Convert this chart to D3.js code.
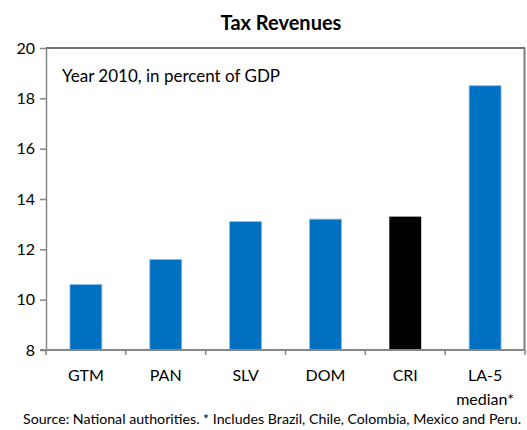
<!DOCTYPE html>
<html>
<head>
<meta charset="utf-8">
<script src="https://cdn.jsdelivr.net/npm/d3@7/dist/d3.min.js"></script>
<style>
  html, body { margin: 0; padding: 0; background: #fff; }
  svg { display: block; font-family: Lato, "Open Sans", sans-serif; }
</style>
</head>
<body>
<svg id="chart" width="527" height="430"></svg>
<script>
// Tax revenues, 2010, percent of GDP
const categories = ["GTM", "PAN", "SLV", "DOM", "CRI", "LA-5\nmedian*"];
const values = [10.6, 11.6, 13.1, 13.2, 13.3, 18.5];
const highlight = ["CRI"];
const yTicks = [8, 10, 12, 14, 16, 18, 20];

const title = "Tax Revenues";
const subtitle = "Year 2010, in percent of GDP";
const source = "Source: National authorities. * Includes Brazil, Chile, Colombia,  Mexico and Peru.";

const svg = d3.select("#chart");
const plotLeft = 46, plotRight = 525, plotTop = 48, plotBottom = 350;

const x = d3.scaleBand()
  .domain(categories)
  .range([plotLeft, plotRight])
  .paddingInner(0.6)
  .paddingOuter(0.3);

const y = d3.scaleLinear()
  .domain([8, 20])
  .range([plotBottom, plotTop]);

// frame: top and right edges
svg.append("line")
  .attr("x1", plotLeft).attr("x2", plotRight)
  .attr("y1", plotTop).attr("y2", plotTop)
  .attr("stroke", "#404040").attr("stroke-width", 1.5);
svg.append("line")
  .attr("x1", plotRight - 0.5).attr("x2", plotRight - 0.5)
  .attr("y1", plotTop).attr("y2", plotBottom)
  .attr("stroke", "#7f7f7f").attr("stroke-width", 2);

// bars
svg.append("g").selectAll("rect")
  .data(categories.map((c, i) => ({ c, v: values[i] })))
  .join("rect")
  .attr("x", d => x(d.c))
  .attr("y", d => y(d.v))
  .attr("width", x.bandwidth())
  .attr("height", d => y(8) - y(d.v))
  .attr("fill", d => highlight.includes(d.c) ? "#000000" : "#0070c0")
  .attr("stroke", d => highlight.includes(d.c) ? "none" : "#8cbbe6")
  .attr("stroke-width", 0.8);

// y axis
const yAxis = svg.append("g")
  .attr("transform", `translate(${plotLeft},0)`)
  .call(d3.axisLeft(y).tickValues(yTicks).tickSize(6).tickSizeOuter(0).tickPadding(5));
yAxis.select(".domain").attr("stroke", "#868686").attr("stroke-width", 1.5);
yAxis.selectAll(".tick line").attr("stroke", "#868686").attr("stroke-width", 1.5);
yAxis.selectAll(".tick text")
  .attr("font-family", "Lato, 'Open Sans', sans-serif")
  .attr("font-size", 16).attr("fill", "#000");

// x axis line and boundary ticks
svg.append("line")
  .attr("x1", plotLeft - 6).attr("x2", plotRight)
  .attr("y1", plotBottom).attr("y2", plotBottom)
  .attr("stroke", "#868686").attr("stroke-width", 2);
const bounds = d3.range(categories.length + 1).map(i => plotLeft + i * x.step());
svg.append("g").selectAll("line")
  .data(bounds)
  .join("line")
  .attr("x1", d => d).attr("x2", d => d)
  .attr("y1", plotBottom).attr("y2", plotBottom + 5)
  .attr("stroke", "#868686").attr("stroke-width", 1.5);

// category labels
const labels = svg.append("g")
  .attr("font-size", 16).attr("text-anchor", "middle").attr("fill", "#000");
categories.forEach(c => {
  const t = labels.append("text")
    .attr("x", x(c) + x.bandwidth() / 2)
    .attr("y", 381);
  c.split("\n").forEach((line, i) => {
    t.append("tspan")
      .attr("x", x(c) + x.bandwidth() / 2)
      .attr("dy", i === 0 ? 0 : 24)
      .text(line);
  });
});

// titles and notes
svg.append("text")
  .attr("x", 281).attr("y", 30)
  .attr("text-anchor", "middle")
  .attr("font-size", 20).attr("font-weight", "bold")
  .attr("fill", "#000")
  .text(title);

svg.append("text")
  .attr("x", 62).attr("y", 82)
  .attr("font-size", 17).attr("fill", "#000")
  .text(subtitle);

svg.append("text")
  .attr("x", 23).attr("y", 424)
  .attr("font-size", 13).attr("fill", "#000")
  .attr("textLength", 498).attr("lengthAdjust", "spacingAndGlyphs")
  .text(source);
</script>
</body>
</html>
